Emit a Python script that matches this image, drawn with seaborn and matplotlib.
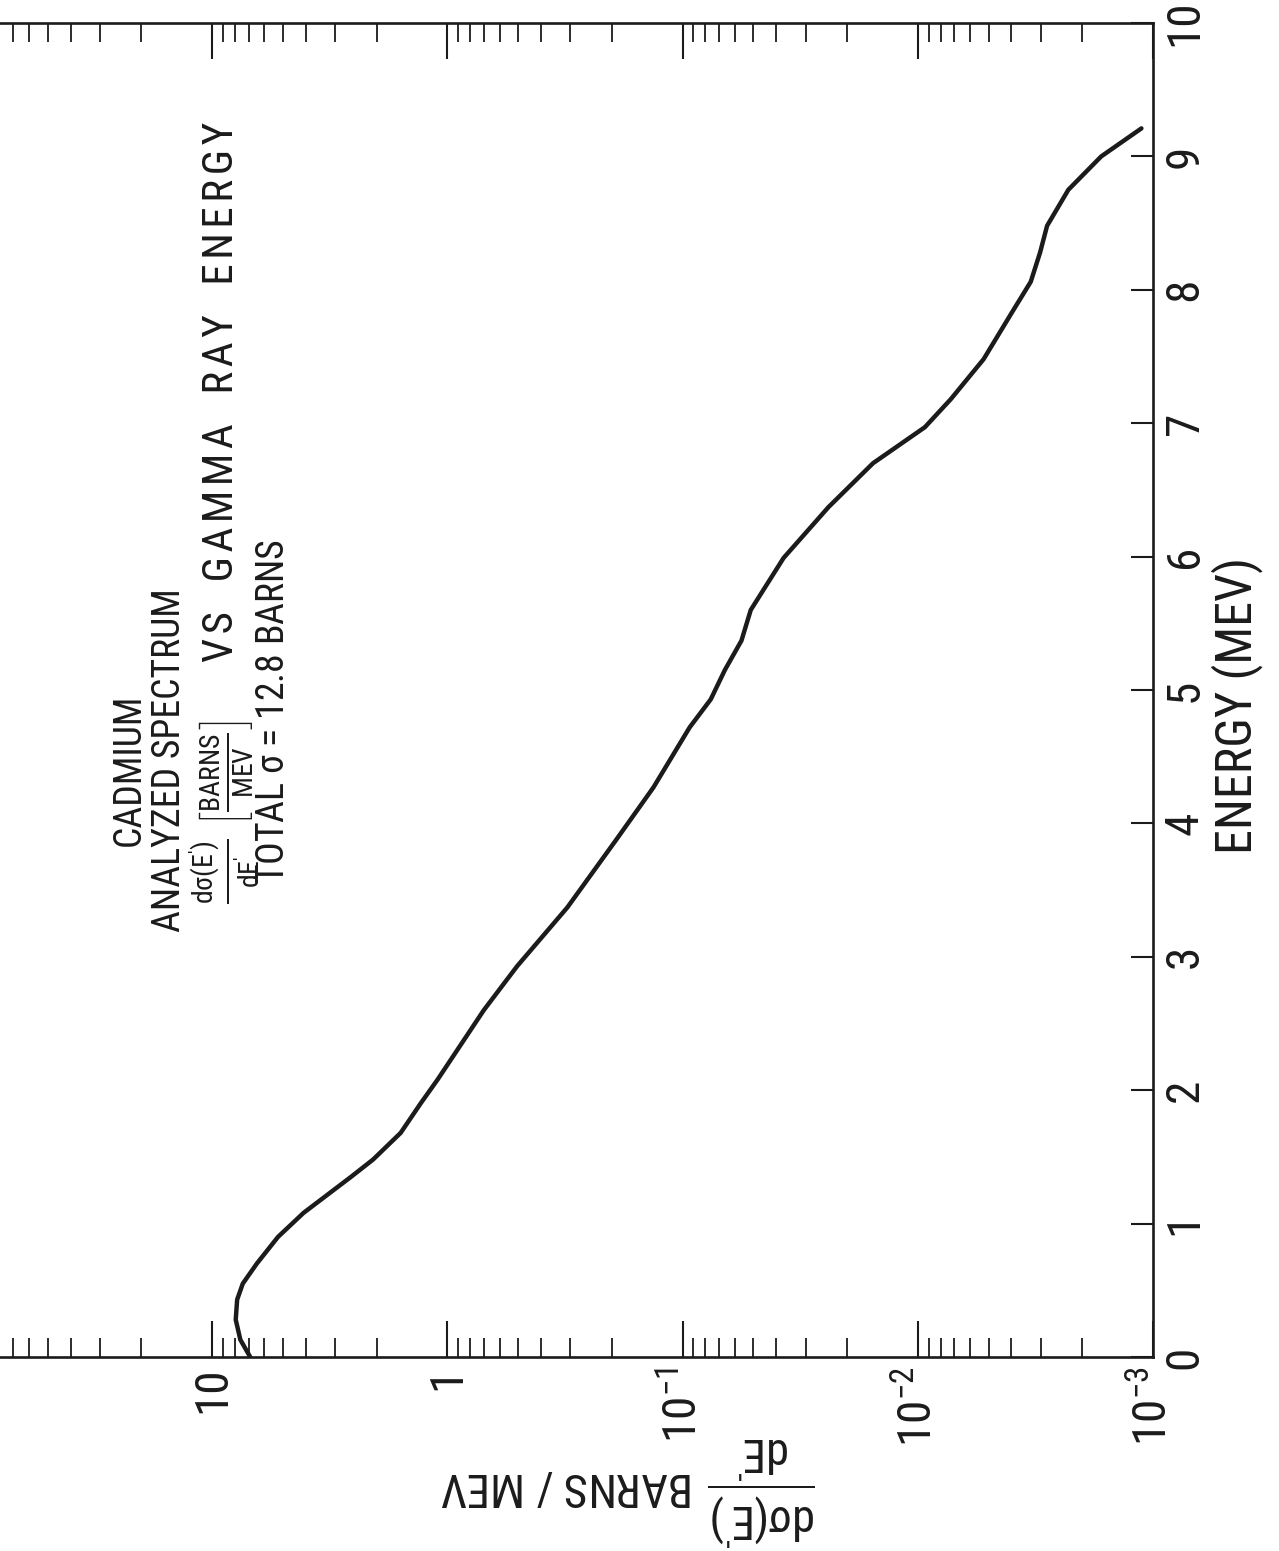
import numpy as np
import pandas as pd
import matplotlib
matplotlib.use("Agg")
import matplotlib.pyplot as plt
import seaborn as sns
from matplotlib import font_manager
from matplotlib.ticker import LogLocator, NullFormatter

# ---------------- data ----------------
energy_mev = [0.00, 0.13, 0.28, 0.43, 0.55, 0.70, 0.90, 1.08, 1.23, 1.35, 1.48,
              1.68, 1.90, 2.08, 2.60, 2.93, 3.37, 3.88, 4.27, 4.72, 4.93, 5.15,
              5.37, 5.60, 5.99, 6.37, 6.70, 6.97, 7.18, 7.48, 7.83, 8.06, 8.28,
              8.48, 8.75, 9.00, 9.21]
dsigma_barns_per_mev = [6.89, 7.59, 7.94, 7.83, 7.41, 6.46, 5.25, 4.09, 3.16, 2.57, 2.07,
                        1.58, 1.30, 1.10, 0.700, 0.505, 0.309, 0.191, 0.133, 0.0933, 0.0759, 0.0661,
                        0.0562, 0.0513, 0.0372, 0.0240, 0.0155, 0.00933, 0.00724, 0.00525, 0.00398, 0.00331, 0.00302,
                        0.00282, 0.00229, 0.00166, 0.00112]

energy_ticks = [0, 1, 2, 3, 4, 5, 6, 7, 8, 9, 10]
energy_tick_labels = ["0", "1", "2", "3", "4", "5", "6", "7", "8", "9", "10"]
sigma_ticks = [10, 1, 0.1, 0.01, 0.001]
sigma_tick_labels = ["10", "1", r"$10^{-1}$", r"$10^{-2}$", r"$10^{-3}$"]

title_name = "CADMIUM"
title_line2 = "ANALYZED SPECTRUM"
title_line3_math = r"$\frac{d\sigma(E')}{dE'}\ \left[\frac{BARNS}{MEV}\right]$"
title_line3_words = ["VS", "GAMMA", "RAY", "ENERGY"]
title_line4 = r"TOTAL $\sigma$ = 12.8 BARNS"
energy_axis_label = "ENERGY (MEV)"
sigma_axis_label = r"$\dfrac{d\sigma(E')}{dE'}$ BARNS / MEV"

# ---------------- style ----------------
sns.set_theme(style="white")
names = {f.name for f in font_manager.fontManager.ttflist}
FONT = "Liberation Sans"
for cand in ["Liberation Sans Narrow", "Roboto Condensed", "Open Sans Condensed", "Liberation Sans"]:
    if cand in names:
        FONT = cand
        break
plt.rcParams["font.family"] = [FONT, "DejaVu Sans"]
plt.rcParams["mathtext.fontset"] = "custom"
plt.rcParams["mathtext.rm"] = FONT
plt.rcParams["mathtext.it"] = FONT
plt.rcParams["mathtext.sf"] = FONT
plt.rcParams["mathtext.default"] = "regular"

INK = "#1b1b1b"
W, H = 1279, 1551
fig = plt.figure(figsize=(W / 100, H / 100), dpi=100)
fig.patch.set_facecolor("white")

# axes frame in pixels: left 0, right 1153, top 23, bottom 1357
ax = fig.add_axes([0 / W, (H - 1357) / H, 1153 / W, (1357 - 23) / H])
ax.set_facecolor("white")
ax.set_xscale("log")

df = pd.DataFrame({"dsigma": dsigma_barns_per_mev, "energy": energy_mev})
sns.lineplot(data=df, x="dsigma", y="energy", sort=False, estimator=None,
             color=INK, linewidth=3.2, ax=ax)
ax.lines[0].set_solid_joinstyle("round")

ax.set_xlim(79.8, 1e-3)
ax.set_ylim(0, 10)

# log axis (horizontal)
ax.set_xticks(sigma_ticks, sigma_tick_labels, rotation=90)
ax.xaxis.set_minor_locator(LogLocator(base=10, subs=np.arange(2, 10), numticks=30))
ax.xaxis.set_minor_formatter(NullFormatter())
ax.tick_params(axis="x", which="major", direction="in", top=True, bottom=True,
               labeltop=False, labelbottom=True, length=26, width=1.5, pad=7,
               labelsize=34, color=INK, labelcolor=INK)
ax.tick_params(axis="x", which="minor", direction="in", top=True, bottom=True,
               length=13.5, width=1.3, color=INK)

# energy axis (vertical), labels on the right
ax.set_yticks(energy_ticks, energy_tick_labels, rotation=90, va="center")
ax.tick_params(axis="y", which="major", direction="in", left=False, right=True,
               labelleft=False, labelright=True, length=16, width=1.5, pad=7,
               labelsize=34, color=INK, labelcolor=INK)
ax.tick_params(axis="y", which="minor", left=False, right=False)

for side in ["top", "right", "bottom"]:
    ax.spines[side].set_visible(True)
    ax.spines[side].set_linewidth(1.9)
    ax.spines[side].set_color(INK)
ax.spines["left"].set_visible(False)
ax.grid(False)

# axis labels
ax.yaxis.set_label_position("right")
ax.set_ylabel(energy_axis_label, rotation=90, fontsize=36, color=INK)
ax.yaxis.label.set_rotation_mode("default")
ax.yaxis.label.set_va("center")
ax.yaxis.label.set_ha("center")
ax.yaxis.set_label_coords(1237 / 1153, (1357 - 705) / 1334)

ax.set_xlabel(sigma_axis_label, rotation=180, va="center", ha="center",
              fontsize=30, color=INK)
ax.xaxis.set_label_coords(628 / 1153, (1357 - 1492) / 1334)


def fx(px):
    return px / W


def fy(py):
    return 1 - py / H


# title block (rotated 90 degrees, like the reference sheet)
t2 = fig.text(fx(170), fy(760), title_line2, rotation=90, ha="center", va="center",
              fontsize=28, color=INK)
fig.canvas.draw()
r = fig.canvas.get_renderer()
S = 28 * 344 / t2.get_window_extent(r).height
t2.set_fontsize(S)

fig.text(fx(129), fy(770), title_name, rotation=90, ha="center", va="center",
         fontsize=S, color=INK)
fig.text(fx(224), fy(812), title_line3_math, rotation=90, ha="center", va="center",
         fontsize=S * 1.05, color=INK)
spaced = "   ".join("\u200a".join(w) for w in title_line3_words)
t3 = fig.text(fx(222), fy(392), spaced, rotation=90, ha="center", va="center",
              fontsize=S, color=INK)
fig.text(fx(274), fy(711), title_line4, rotation=90, ha="center", va="center",
         fontsize=S, color=INK)

fig.canvas.draw()
t3.set_fontsize(S * 540 / t3.get_window_extent(r).height)

labx = ax.xaxis.label
bb = labx.get_window_extent(r)
labx.set_fontsize(labx.get_fontsize() * 375 / bb.width)

fig.savefig("out.png", dpi=100, facecolor="white")
